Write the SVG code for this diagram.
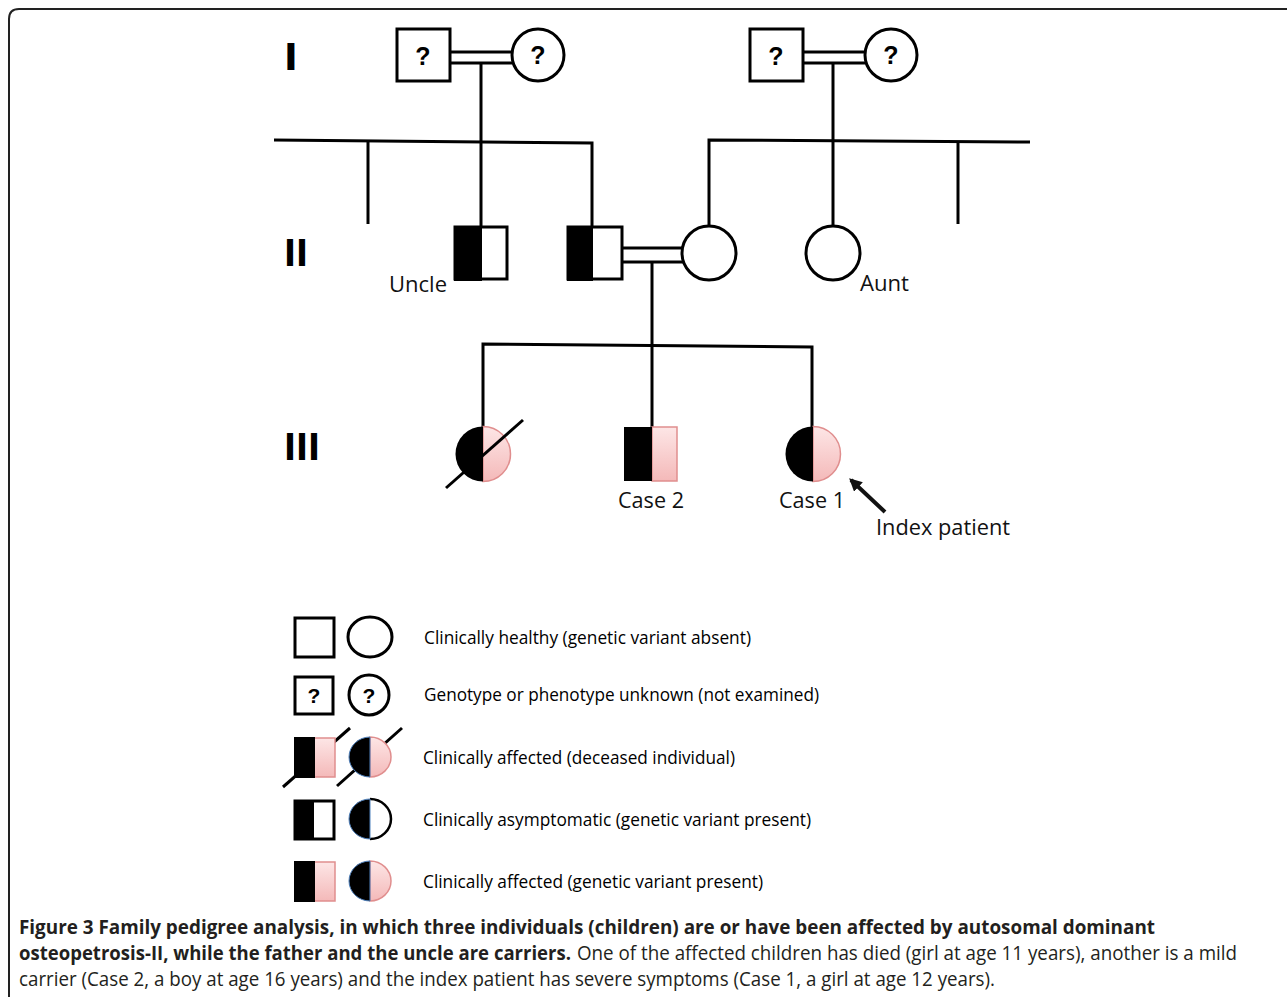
<svg xmlns="http://www.w3.org/2000/svg" width="1287" height="997" viewBox="0 0 1287 997">
<defs>
<linearGradient id="pink" x1="0" y1="0" x2="0" y2="1">
<stop offset="0" stop-color="#fde6e6"/>
<stop offset="1" stop-color="#f4b9b9"/>
</linearGradient>
<marker id="ah" viewBox="0 0 10 10" refX="8" refY="5" markerWidth="3.2" markerHeight="3.2" orient="auto">
<path d="M0,0 L10,5 L0,10 Z" fill="#111"/>
</marker>
</defs>
<style>
.ln{stroke:#000;stroke-width:3;fill:none}
.sh{stroke:#000;stroke-width:3;fill:#fff}
.blk{fill:#000}
.pk{fill:url(#pink);stroke:#e08e8e;stroke-width:1.5}
.lbl{font-family:"Open Sans","Liberation Sans",sans-serif;font-size:22px;fill:#111}
.gen{font-family:"DejaVu Sans",sans-serif;font-weight:bold;font-size:37px;fill:#000}
.q{font-family:"Liberation Sans",sans-serif;font-weight:bold;font-size:25px;fill:#000;text-anchor:middle}
.lg{font-family:"Open Sans","Liberation Sans",sans-serif;font-size:18.5px;fill:#000}
.cap{font-family:"Open Sans","Liberation Sans",sans-serif;font-size:20px;fill:#231f20}
.capb{font-weight:bold}
.frame{fill:none;stroke:#222;stroke-width:2}
</style>
<path class="frame" d="M9,1000 L9,19 Q9,9 19,9 L1290,9"/>

<g id="generation-labels">
<text class="gen" x="284" y="70">I</text>
<text class="gen" x="284" y="266" textLength="24" lengthAdjust="spacingAndGlyphs">II</text>
<text class="gen" x="284" y="460" textLength="36" lengthAdjust="spacingAndGlyphs">III</text>
</g>

<g id="connectors">
<line class="ln" x1="450" y1="52" x2="513" y2="52"/>
<line class="ln" x1="450" y1="63" x2="513" y2="63"/>
<line class="ln" x1="481" y1="63" x2="481" y2="227"/>
<polyline class="ln" points="274,140 592,143 592,227"/>
<line class="ln" x1="368" y1="141" x2="368" y2="224"/>
<line class="ln" x1="803" y1="52" x2="866" y2="52"/>
<line class="ln" x1="803" y1="63" x2="866" y2="63"/>
<line class="ln" x1="833" y1="63" x2="833" y2="226"/>
<polyline class="ln" points="709,227 709,140 1030,142"/>
<line class="ln" x1="958" y1="141" x2="958" y2="224"/>
<line class="ln" x1="622" y1="248" x2="683" y2="248"/>
<line class="ln" x1="622" y1="262" x2="683" y2="262"/>
<line class="ln" x1="652" y1="262" x2="652" y2="427"/>
<polyline class="ln" points="483,427 483,344 812,347 812,427"/>
<line x1="885" y1="512" x2="851" y2="480" stroke="#111" stroke-width="4" marker-end="url(#ah)"/>
</g>

<g id="I-1">
<rect class="sh" x="397" y="29" width="53" height="52"/>
<text class="q" x="423" y="65">?</text>
</g>
<g id="I-2">
<circle class="sh" cx="538" cy="55" r="26"/>
<text class="q" x="538" y="64">?</text>
</g>
<g id="I-3">
<rect class="sh" x="750" y="29" width="53" height="52"/>
<text class="q" x="776" y="65">?</text>
</g>
<g id="I-4">
<circle class="sh" cx="891" cy="55" r="26"/>
<text class="q" x="891" y="64">?</text>
</g>

<g id="II-uncle">
<rect class="sh" x="455" y="227" width="52" height="52"/>
<rect class="blk" x="454" y="226" width="28" height="55"/>
<text class="lbl" x="389" y="292" textLength="58" lengthAdjust="spacingAndGlyphs">Uncle</text>
</g>
<g id="II-father">
<rect class="sh" x="568" y="227" width="54" height="52"/>
<rect class="blk" x="567" y="226" width="26" height="55"/>
</g>
<g id="II-mother">
<circle class="sh" cx="709" cy="253" r="27"/>
</g>
<g id="II-aunt">
<circle class="sh" cx="833" cy="253" r="27"/>
<text class="lbl" x="860" y="291" textLength="49" lengthAdjust="spacingAndGlyphs">Aunt</text>
</g>

<g id="III-deceased">
<path class="pk" d="M483,426.5 A27.5,27.5 0 0 1 483,481.5 Z"/>
<path class="blk" d="M483,426.5 A27.5,27.5 0 0 0 483,481.5 Z"/>
<line class="ln" x1="446" y1="488" x2="523" y2="420"/>
</g>
<g id="III-case2">
<rect class="pk" x="652" y="427" width="25" height="54"/>
<rect class="blk" x="624" y="427" width="28" height="54"/>
<text class="lbl" x="651" y="508" text-anchor="middle" textLength="66" lengthAdjust="spacingAndGlyphs">Case 2</text>
</g>
<g id="III-case1">
<path class="pk" d="M813,426.5 A27.5,27.5 0 0 1 813,481.5 Z"/>
<path class="blk" d="M813,426.5 A27.5,27.5 0 0 0 813,481.5 Z"/>
<text class="lbl" x="812" y="508" text-anchor="middle" textLength="66" lengthAdjust="spacingAndGlyphs">Case 1</text>
</g>
<g id="index-label">
<text class="lbl" x="876" y="535" textLength="134" lengthAdjust="spacingAndGlyphs">Index patient</text>
</g>

<g id="legend">
<g id="legend-healthy">
<rect class="sh" x="295" y="618" width="39" height="39"/>
<ellipse class="sh" cx="370" cy="637" rx="22" ry="20"/>
<text class="lg" x="424" y="644" textLength="327" lengthAdjust="spacingAndGlyphs">Clinically healthy (genetic variant absent)</text>
</g>
<g id="legend-unknown">
<rect class="sh" x="295" y="677" width="38" height="37"/>
<text class="q" x="314" y="703" style="font-size:21px">?</text>
<circle class="sh" cx="369" cy="695" r="20"/>
<text class="q" x="369" y="703" style="font-size:21px">?</text>
<text class="lg" x="424" y="701" textLength="395" lengthAdjust="spacingAndGlyphs">Genotype or phenotype unknown (not examined)</text>
</g>
<g id="legend-deceased">
<line class="ln" x1="283" y1="787" x2="350" y2="728"/>
<line class="ln" x1="337" y1="786" x2="402" y2="728"/>
<rect class="pk" x="314" y="738" width="21" height="39"/>
<rect class="blk" x="294" y="737" width="21" height="41"/>
<path class="pk" d="M370,737 A21,20 0 0 1 370,777 Z"/>
<path class="blk" d="M370,737 A21,20 0 0 0 370,777 Z" stroke="#4f81bd" stroke-width="1"/>
<text class="lg" x="423" y="764" textLength="312" lengthAdjust="spacingAndGlyphs">Clinically affected (deceased individual)</text>
</g>
<g id="legend-asymptomatic">
<rect class="sh" x="295" y="801" width="39" height="38"/>
<rect class="blk" x="294" y="800" width="20" height="40"/>
<path d="M370,799 A21,20 0 0 1 370,839" fill="#fff" stroke="#000" stroke-width="2.5"/>
<path class="blk" d="M370,799 A21,20 0 0 0 370,839 Z" stroke="#4f81bd" stroke-width="1"/>
<text class="lg" x="423" y="826" textLength="388" lengthAdjust="spacingAndGlyphs">Clinically asymptomatic (genetic variant present)</text>
</g>
<g id="legend-affected">
<rect class="pk" x="314" y="862" width="21" height="39"/>
<rect class="blk" x="294" y="861" width="21" height="41"/>
<path class="pk" d="M370,861 A21,20 0 0 1 370,901 Z"/>
<path class="blk" d="M370,861 A21,20 0 0 0 370,901 Z" stroke="#4f81bd" stroke-width="1"/>
<text class="lg" x="423" y="888" textLength="340" lengthAdjust="spacingAndGlyphs">Clinically affected (genetic variant present)</text>
</g>
</g>

<g id="caption">
<text class="cap capb" x="19" y="934" textLength="1136" lengthAdjust="spacingAndGlyphs">Figure 3 Family pedigree analysis, in which three individuals (children) are or have been affected by autosomal dominant</text>
<text class="cap capb" x="19" y="960" textLength="552" lengthAdjust="spacingAndGlyphs">osteopetrosis-II, while the father and the uncle are carriers.</text>
<text class="cap" x="577" y="960" textLength="660" lengthAdjust="spacingAndGlyphs">One of the affected children has died (girl at age 11 years), another is a mild</text>
<text class="cap" x="19" y="986" textLength="976" lengthAdjust="spacingAndGlyphs">carrier (Case 2, a boy at age 16 years) and the index patient has severe symptoms (Case 1, a girl at age 12 years).</text>
</g>
</svg>
